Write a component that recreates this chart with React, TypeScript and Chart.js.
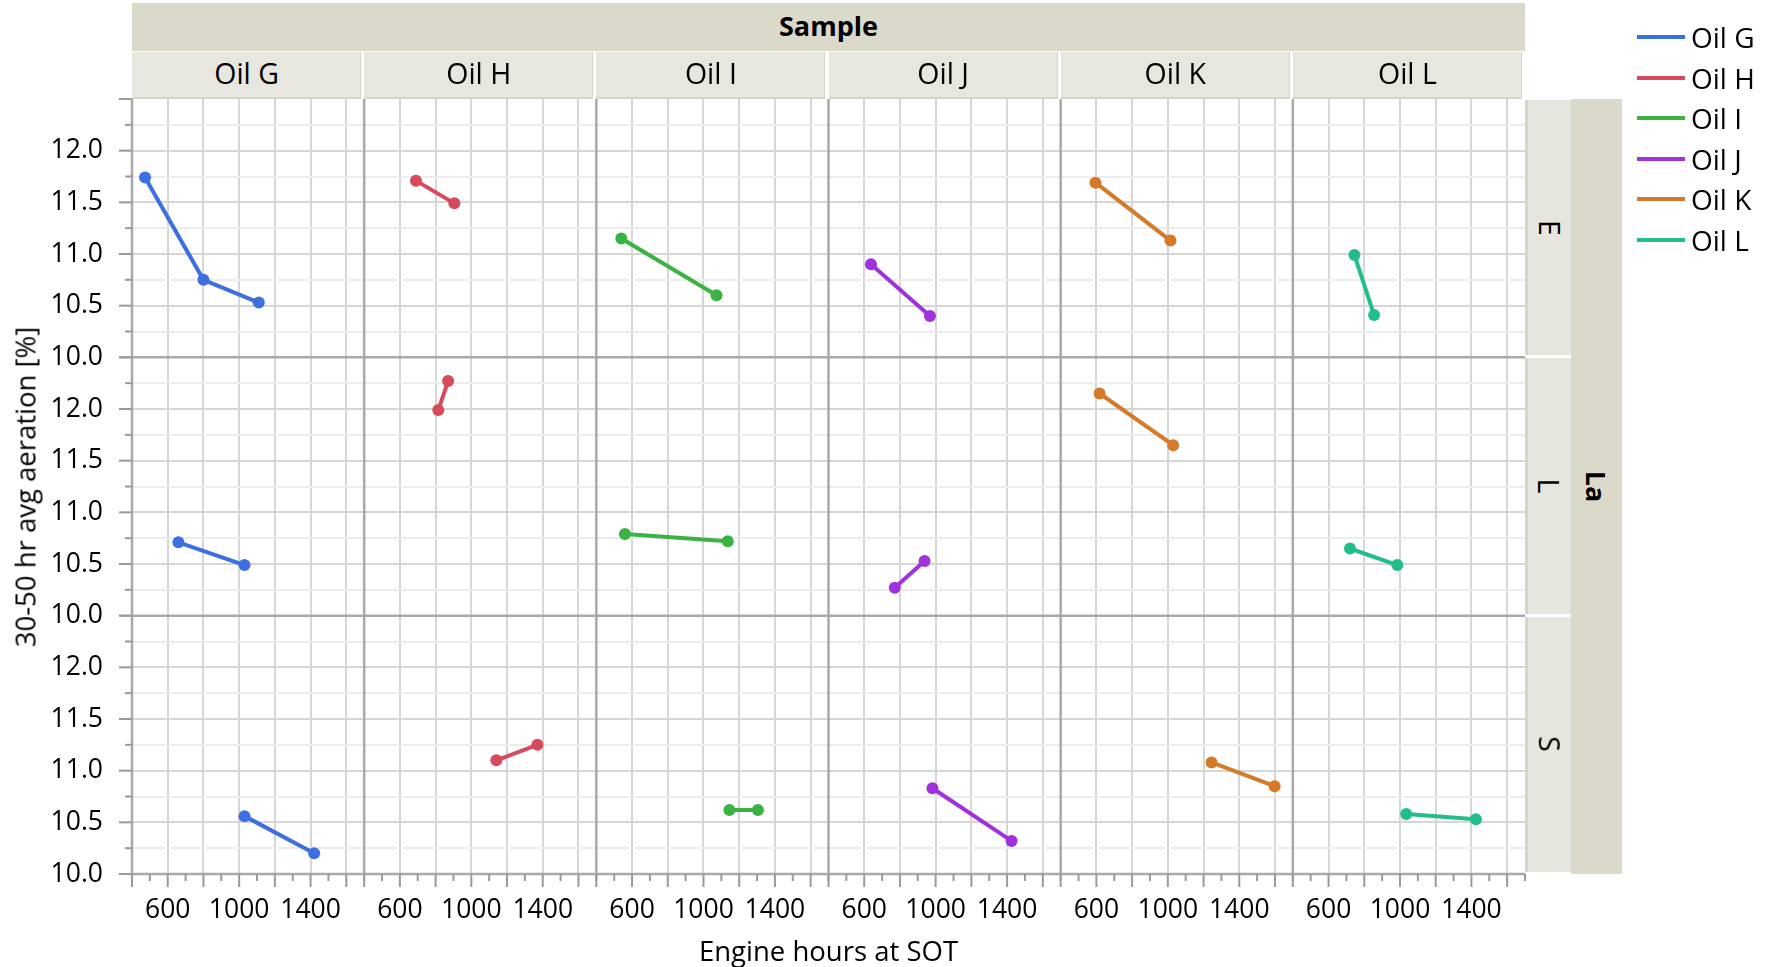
import React, { useEffect, useRef } from 'react';
import { Chart, registerables } from 'chart.js';

Chart.register(...registerables);

// ---------- data ----------
const OILS = ['Oil G', 'Oil H', 'Oil I', 'Oil J', 'Oil K', 'Oil L'];
const LA_LEVELS = ['E', 'L', 'S'];
const COLORS = ['#3d6fe0', '#d64a5b', '#3bb244', '#a032de', '#d47a28', '#22bd8d'];

// Engine hours at SOT, per oil (row La = E)
const HOURS_E = [[473, 800, 1110], [690, 905], [540, 1073], [638, 968], [595, 1015], [745, 855]];
const AER_E = [[11.74, 10.75, 10.53], [11.71, 11.49], [11.15, 10.6], [10.9, 10.4], [11.69, 11.13], [10.99, 10.41]];
// row La = L
const HOURS_L = [[660, 1030], [815, 870], [560, 1136], [771, 938], [618, 1030], [720, 985]];
const AER_L = [[10.71, 10.49], [11.99, 12.27], [10.79, 10.72], [10.27, 10.53], [12.15, 11.65], [10.65, 10.49]];
// row La = S
const HOURS_S = [[1030, 1420], [1140, 1370], [1145, 1305], [982, 1425], [1245, 1598], [1035, 1425]];
const AER_S = [[10.56, 10.2], [11.1, 11.25], [10.62, 10.62], [10.83, 10.32], [11.08, 10.85], [10.58, 10.53]];

const HOURS = [HOURS_E, HOURS_L, HOURS_S];
const AER = [AER_E, AER_L, AER_S];

const X_TICK_LABELS = [600, 1000, 1400];
const Y_TICK_LABELS = ['10.0', '10.5', '11.0', '11.5', '12.0'];
const X_MIN = 400;
const X_MAX = 1700;
const X_MINOR = 100;
const X_MAJOR = 200;
const Y_MIN = 10;
const Y_MAX = 12.5;
const Y_MINOR = 0.25;
const Y_MAJOR = 0.5;

// ---------- layout / style ----------
const W = 1771;
const H = 967;
const AREA = { left: 132, top: 99, right: 1525, bottom: 874 };
const COL_W = (AREA.right - AREA.left) / OILS.length;
const ROW_H = (AREA.bottom - AREA.top) / LA_LEVELS.length;
const FONT = "'Open Sans', 'Noto Sans', 'DejaVu Sans', sans-serif";
const GRID = '#d6d6d6';
const GRID_MINOR = '#ececec';
const FRAME = '#a9a9a9';
const TICK = '#9a9a9a';
const STRIP_DARK = '#dbd9ca';
const STRIP_LIGHT = '#e7e7df';
const STRIP_EDGE = '#d6d5c9';
const TICK_FONT = 26.5;
const STRIP_FONT = 28.5;
const TITLE_FONT = 27.5;

const isMult = (v: number, step: number) => Math.abs(v / step - Math.round(v / step)) < 1e-6;

const framePlugin = {
  id: 'panelFrame',
  beforeDatasetsDraw(chart: any) {
    const { ctx, chartArea } = chart;
    ctx.save();
    ctx.strokeStyle = FRAME;
    ctx.lineWidth = 2.5;
    OILS.forEach((_, c) => {
      const s = chart.scales['x' + c];
      const px = s.getPixelForValue(X_MIN);
      ctx.beginPath();
      ctx.moveTo(px, chartArea.top);
      ctx.lineTo(px, chartArea.bottom);
      ctx.stroke();
    });
    LA_LEVELS.forEach((_, r) => {
      const s = chart.scales['y' + r];
      const py = s.getPixelForValue(Y_MIN);
      ctx.beginPath();
      ctx.moveTo(chartArea.left, py);
      ctx.lineTo(chartArea.right, py);
      ctx.stroke();
    });
    ctx.restore();
  },
  afterDraw(chart: any) {
    const { ctx } = chart;
    ctx.save();
    ctx.strokeStyle = TICK;
    ctx.lineWidth = 2;
    LA_LEVELS.forEach((_, r) => {
      const s = chart.scales['y' + r];
      s.ticks.forEach((t: any) => {
        const py = s.getPixelForValue(t.value);
        const len = isMult(t.value, Y_MAJOR) ? 13 : 7;
        ctx.beginPath();
        ctx.moveTo(s.right - len, py);
        ctx.lineTo(s.right, py);
        ctx.stroke();
      });
    });
    OILS.forEach((_, c) => {
      const s = chart.scales['x' + c];
      s.ticks.forEach((t: any) => {
        const px = s.getPixelForValue(t.value);
        const len = isMult(t.value, X_MAJOR) ? 13 : 7;
        ctx.beginPath();
        ctx.moveTo(px, s.top);
        ctx.lineTo(px, s.top + len);
        ctx.stroke();
      });
    });
    ctx.restore();
  },
};

function buildConfig(): any {
  const scales: any = {};
  OILS.forEach((_, c) => {
    scales['x' + c] = {
      type: 'linear',
      position: 'bottom',
      stack: 'cols',
      stackWeight: 1,
      min: X_MIN,
      max: X_MAX,
      afterBuildTicks: (s: any) => {
        const t: any[] = [];
        for (let v = X_MIN; v <= X_MAX + 1e-9; v += X_MINOR) t.push({ value: v });
        s.ticks = t;
      },
      afterFit: (s: any) => {
        s.height = H - AREA.bottom;
      },
      ticks: {
        autoSkip: false,
        maxRotation: 0,
        minRotation: 0,
        padding: 21,
        color: '#000',
        font: { family: FONT, size: TICK_FONT },
        callback: (v: any) => (X_TICK_LABELS.includes(Math.round(Number(v))) ? String(Math.round(Number(v))) : ''),
      },
      grid: {
        drawTicks: false,
        lineWidth: 2,
        color: (ctx: any) => {
          const v = ctx.tick ? ctx.tick.value : 0;
          return isMult(v, X_MAJOR) && v > X_MIN && v < X_MAX ? GRID : 'rgba(0,0,0,0)';
        },
      },
      border: { display: false },
    };
  });
  LA_LEVELS.forEach((_, r) => {
    scales['y' + r] = {
      type: 'linear',
      position: 'left',
      stack: 'rows',
      stackWeight: 1,
      weight: LA_LEVELS.length - r,
      min: Y_MIN,
      max: Y_MAX,
      afterBuildTicks: (s: any) => {
        const t: any[] = [];
        for (let i = 0; Y_MIN + i * Y_MINOR <= Y_MAX + 1e-9; i++) t.push({ value: Y_MIN + i * Y_MINOR });
        s.ticks = t;
      },
      afterFit: (s: any) => {
        s.width = AREA.left;
      },
      ticks: {
        autoSkip: false,
        padding: 29,
        color: '#000',
        font: { family: FONT, size: TICK_FONT },
        callback: (v: any) => {
          const n = Number(v);
          const s = n.toFixed(1);
          return isMult(n, Y_MAJOR) && Y_TICK_LABELS.includes(s) ? s : '';
        },
      },
      grid: {
        drawTicks: false,
        lineWidth: 2,
        color: (ctx: any) => {
          const v = ctx.tick ? ctx.tick.value : 0;
          if (v <= Y_MIN + 1e-6 || v >= Y_MAX - 1e-6) return 'rgba(0,0,0,0)';
          return isMult(v, Y_MAJOR) ? GRID : GRID_MINOR;
        },
      },
      border: { display: false },
    };
  });

  const datasets: any[] = [];
  LA_LEVELS.forEach((_, r) => {
    OILS.forEach((oil, c) => {
      datasets.push({
        label: oil,
        data: HOURS[r][c].map((h, i) => ({ x: h, y: AER[r][c][i] })),
        xAxisID: 'x' + c,
        yAxisID: 'y' + r,
        borderColor: COLORS[c],
        backgroundColor: COLORS[c],
        pointBackgroundColor: COLORS[c],
        pointBorderColor: COLORS[c],
        borderWidth: 4,
        pointRadius: 6,
        pointBorderWidth: 0,
        tension: 0,
        fill: false,
      });
    });
  });

  return {
    type: 'line',
    data: { datasets },
    options: {
      responsive: false,
      animation: false,
      devicePixelRatio: 1,
      layout: { padding: { top: AREA.top, right: W - AREA.right, left: 0, bottom: 0 } },
      plugins: { legend: { display: false }, tooltip: { enabled: false }, title: { display: false } },
      scales,
    },
    plugins: [framePlugin],
  };
}

export default function App() {
  const canvasRef = useRef<HTMLCanvasElement | null>(null);

  useEffect(() => {
    document.body.style.margin = '0';
    const canvas = canvasRef.current;
    if (!canvas) return;
    const chart = new Chart(canvas, buildConfig());
    return () => chart.destroy();
  }, []);

  const abs = (s: any): any => ({ position: 'absolute', boxSizing: 'border-box', ...s });
  const center: any = { display: 'flex', alignItems: 'center', justifyContent: 'center' };

  return (
    <div style={{ position: 'relative', width: W, height: H, overflow: 'hidden', fontFamily: FONT, color: '#000', background: '#fff' }}>
      <canvas ref={canvasRef} width={W} height={H} style={{ position: 'absolute', left: 0, top: 0, width: W, height: H }} />

      {/* top strip */}
      <div style={abs({ left: AREA.left, top: 3, width: AREA.right - AREA.left, height: 48, background: STRIP_DARK, fontWeight: 700, fontSize: 27, paddingBottom: 4, ...center })}>
        Sample
      </div>
      {OILS.map((oil, c) => (
        <div
          key={oil}
          style={abs({
            left: AREA.left + c * COL_W,
            top: 52,
            width: COL_W - 3,
            height: 47,
            background: STRIP_LIGHT,
            boxShadow: `inset 0 -2px 0 ${STRIP_EDGE}, inset -1px 0 0 ${STRIP_EDGE}`,
            fontSize: STRIP_FONT,
            paddingBottom: 5,
            ...center,
          })}
        >
          {oil}
        </div>
      ))}

      {/* right strips */}
      {LA_LEVELS.map((la, r) => (
        <div
          key={la}
          style={abs({
            left: AREA.right,
            top: AREA.top + r * ROW_H + 1,
            width: 46,
            height: ROW_H - 3,
            background: '#e6e6de',
            borderLeft: `3px solid ${STRIP_EDGE}`,
            fontSize: STRIP_FONT,
            ...center,
          })}
        >
          <span style={{ display: 'inline-block', transform: 'rotate(90deg)', whiteSpace: 'nowrap' }}>{la}</span>
        </div>
      ))}
      <div style={abs({ left: AREA.right + 46, top: AREA.top, width: 51, height: AREA.bottom - AREA.top, background: STRIP_DARK, fontWeight: 700, fontSize: 27, ...center })}>
        <span style={{ display: 'inline-block', transform: 'rotate(90deg)', whiteSpace: 'nowrap' }}>La</span>
      </div>

      {/* legend */}
      {OILS.map((oil, i) => (
        <div key={'lg' + oil} style={abs({ left: 1637, top: 37 + i * 40.6 - 18, height: 36, display: 'flex', alignItems: 'center' })}>
          <div style={{ width: 48, height: 4, background: COLORS[i], marginRight: 6 }} />
          <span style={{ fontSize: 28, whiteSpace: 'nowrap' }}>{oil}</span>
        </div>
      ))}

      {/* axis titles */}
      <div style={abs({ left: (AREA.left + AREA.right) / 2, top: 950, transform: 'translate(-50%, -50%)', fontSize: TITLE_FONT, whiteSpace: 'nowrap' })}>
        Engine hours at SOT
      </div>
      <div style={abs({ left: 25, top: (AREA.top + AREA.bottom) / 2, transform: 'translate(-50%, -50%) rotate(-90deg)', fontSize: TITLE_FONT, whiteSpace: 'nowrap' })}>
        30-50 hr avg aeration [%]
      </div>
    </div>
  );
}
